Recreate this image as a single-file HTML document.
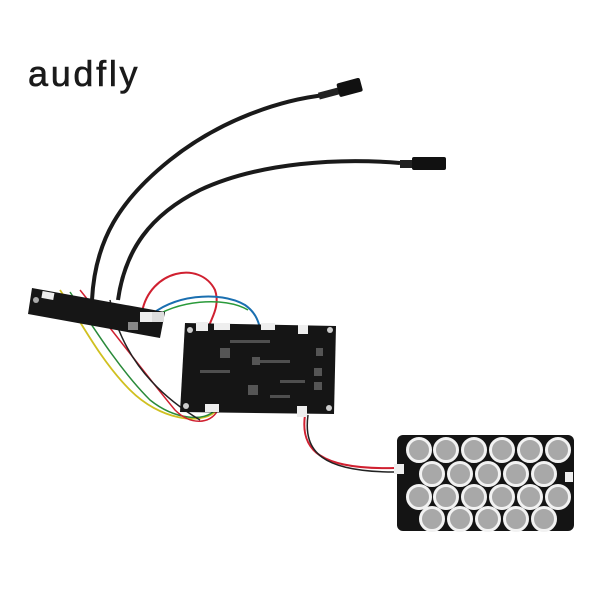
<!DOCTYPE html>
<html><head><style>
body{margin:0;background:#fff;width:600px;height:600px;overflow:hidden}
svg{display:block}
</style></head><body>
<svg width="600" height="600" viewBox="0 0 600 600" xmlns="http://www.w3.org/2000/svg">
<rect width="600" height="600" fill="#fff"/>
<text x="28" y="86" font-family="Liberation Sans, sans-serif" font-size="36" fill="#1a1a1a" letter-spacing="2.5" stroke="#1a1a1a" stroke-width="0.6" textLength="112">audfly</text>
<path d="M92 300 C95 240 120 200 170 160 C220 120 280 100 325 95" stroke="#1a1a1a" stroke-width="4" fill="none"/>
<path d="M118 300 C125 250 150 215 200 190 C260 162 340 158 400 163" stroke="#1a1a1a" stroke-width="4" fill="none"/>
<g transform="rotate(-15 340 90)"><rect x="318" y="87" width="22" height="7" fill="#222"/><rect x="338" y="83" width="24" height="14" rx="2" fill="#111"/></g>
<g><rect x="400" y="160" width="14" height="8" fill="#222"/><rect x="412" y="157" width="34" height="13" rx="2" fill="#111"/></g>
<path d="M142 312 C150 270 200 260 215 290 C222 310 205 325 210 330" stroke="#d02030" stroke-width="2" fill="none"/>
<path d="M148 318 C170 295 220 290 245 305 C255 312 258 320 260 328" stroke="#1a6fb0" stroke-width="2" fill="none"/>
<path d="M150 320 C175 300 225 296 248 310" stroke="#2a9a3a" stroke-width="1.5" fill="none"/>
<path d="M60 290 C80 320 100 360 130 390 C160 420 200 425 215 412" stroke="#d0c020" stroke-width="1.8" fill="none"/>
<path d="M70 292 C95 330 120 370 150 400 C175 420 205 422 215 410" stroke="#2a8a3a" stroke-width="1.5" fill="none"/>
<path d="M80 290 C120 340 150 380 175 410 C190 425 210 425 218 410" stroke="#d02030" stroke-width="1.5" fill="none"/>
<path d="M110 300 C120 350 150 390 200 420" stroke="#222" stroke-width="1.5" fill="none"/>
<path d="M305 415 C300 450 320 470 395 468" stroke="#d02030" stroke-width="2" fill="none"/>
<path d="M308 415 C303 452 322 472 395 472" stroke="#222" stroke-width="1.5" fill="none"/>
<polygon points="32,288 165,312 160,338 28,314" fill="#161616"/>
<rect x="42" y="292" width="12" height="7" fill="#eee" transform="rotate(10 48 295)"/>
<rect x="140" y="312" width="12" height="10" fill="#eee"/>
<rect x="152" y="312" width="12" height="10" fill="#ddd"/>
<rect x="128" y="322" width="10" height="8" fill="#888"/>
<circle cx="36" cy="300" r="3" fill="#aaa"/>
<polygon points="185,323 336,326 334,414 180,412" fill="#151515"/>
<g fill="#eee"><rect x="196" y="322" width="12" height="9"/><rect x="214" y="323" width="16" height="7"/><rect x="261" y="323" width="14" height="7"/><rect x="298" y="325" width="10" height="9"/><rect x="205" y="404" width="14" height="8"/><rect x="297" y="406" width="10" height="11"/></g>
<g fill="#555"><rect x="220" y="348" width="10" height="10"/><rect x="252" y="357" width="8" height="8"/><rect x="248" y="385" width="10" height="10"/><rect x="316" y="348" width="7" height="8"/><rect x="314" y="368" width="8" height="8"/><rect x="314" y="382" width="8" height="8"/></g>
<g fill="#777" opacity="0.6"><rect x="230" y="340" width="40" height="3"/><rect x="260" y="360" width="30" height="3"/><rect x="200" y="370" width="30" height="3"/><rect x="280" y="380" width="25" height="3"/><rect x="270" y="395" width="20" height="3"/></g>
<g fill="#ccc"><circle cx="190" cy="330" r="3"/><circle cx="330" cy="330" r="3"/><circle cx="186" cy="406" r="3"/><circle cx="329" cy="408" r="3"/></g>
<rect x="397" y="435" width="177" height="96" rx="6" fill="#141414"/>
<rect x="394" y="464" width="10" height="10" fill="#eee"/>
<rect x="565" y="472" width="8" height="10" fill="#eee"/>
<g fill="#a8a8a8" stroke="#f2f2f2" stroke-width="3">
<circle cx="419" cy="450" r="11.5"/><circle cx="446" cy="450" r="11.5"/><circle cx="474" cy="450" r="11.5"/><circle cx="502" cy="450" r="11.5"/><circle cx="530" cy="450" r="11.5"/><circle cx="558" cy="450" r="11.5"/>
<circle cx="432" cy="474" r="11.5"/><circle cx="460" cy="474" r="11.5"/><circle cx="488" cy="474" r="11.5"/><circle cx="516" cy="474" r="11.5"/><circle cx="544" cy="474" r="11.5"/>
<circle cx="419" cy="497" r="11.5"/><circle cx="446" cy="497" r="11.5"/><circle cx="474" cy="497" r="11.5"/><circle cx="502" cy="497" r="11.5"/><circle cx="530" cy="497" r="11.5"/><circle cx="558" cy="497" r="11.5"/>
<circle cx="432" cy="519" r="11.5"/><circle cx="460" cy="519" r="11.5"/><circle cx="488" cy="519" r="11.5"/><circle cx="516" cy="519" r="11.5"/><circle cx="544" cy="519" r="11.5"/>
</g>
</svg>
</body></html>
